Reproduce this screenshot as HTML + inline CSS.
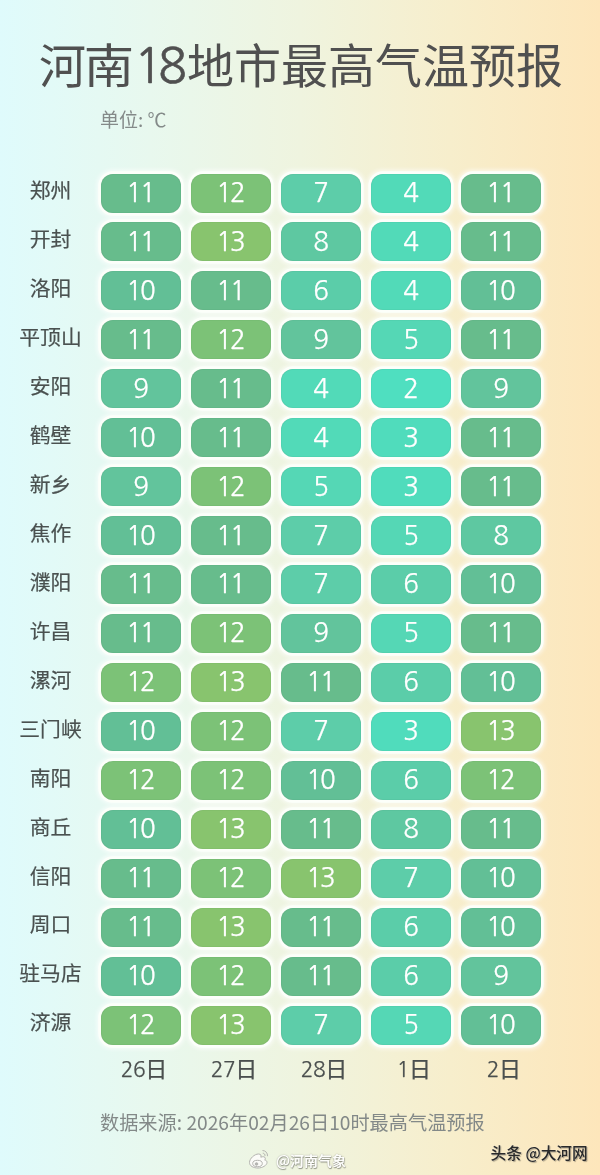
<!DOCTYPE html>
<html><head><meta charset="utf-8">
<style>
html,body{margin:0;padding:0;}
body{width:600px;height:1175px;overflow:hidden;position:relative;
background:linear-gradient(90deg,#dffbfc 0%,#e8f8ee 25%,#eff4df 50%,#f7eecc 75%,#fde6bb 100%);
font-family:"Liberation Sans","Noto Sans CJK SC",sans-serif;}
.t{position:absolute;top:27.8px;font-size:47px;line-height:70px;color:#505050;font-family:"Noto Sans CJK SC",sans-serif;white-space:nowrap;}
.t18{position:absolute;top:30.5px;font-size:48px;-webkit-text-stroke:0.6px #505050;line-height:70px;color:#505050;font-family:"NanumGothic",sans-serif;letter-spacing:-5px;white-space:nowrap;}
.unit{position:absolute;left:100px;top:104px;font-size:19px;line-height:30px;color:#848a89;font-family:"Noto Sans CJK SC",sans-serif;}
.lab{position:absolute;left:0;width:101px;height:38.7px;line-height:38.7px;text-align:center;font-size:20.8px;color:#4a5150;-webkit-text-stroke:0.2px #4a5150;font-family:"Noto Sans CJK SC",sans-serif;white-space:nowrap;}
.cell{position:absolute;width:79.8px;height:39px;border-radius:12px;box-shadow:0 0 0 2.7px #fcfffa, 0 0 4px 3.5px rgba(255,255,255,0.7), inset 0 0 1px rgba(0,60,30,0.35);color:#fff;text-align:center;
line-height:39px;font-size:26px;letter-spacing:-2px;font-family:"NanumGothic","Liberation Sans",sans-serif;}
.cell span{position:relative;top:0.4px;left:-1.2px;-webkit-text-stroke:0.25px #fff;}
.date{position:absolute;top:1052px;width:79.8px;padding-left:5.5px;box-sizing:border-box;-webkit-text-stroke:0.25px #4a4f4e;text-align:center;font-size:22px;line-height:30px;color:#4a4f4e;font-family:"Noto Sans CJK SC",sans-serif;}
.dn{font-size:21px;font-family:"NanumGothic",sans-serif;letter-spacing:-0.5px;}
.src{position:absolute;left:100px;top:1107px;font-size:19.2px;line-height:30px;color:#838988;font-family:"Noto Sans CJK SC",sans-serif;white-space:nowrap;}
.wb{position:absolute;left:276px;top:1150.5px;font-size:14px;line-height:18px;color:#fdfdfb;font-weight:700;text-shadow:0.5px 0.5px 1px rgba(0,0,0,0.35),0 0 1.5px rgba(0,0,0,0.3);font-family:"Noto Sans CJK SC",sans-serif;}
.wbl{position:absolute;left:247px;top:1147px;width:24px;height:24px;}
.tt{position:absolute;left:490.5px;top:1142.5px;font-size:15.7px;line-height:20px;color:#2a2a2a;font-weight:500;text-shadow:1px 1px 1px rgba(0,0,0,0.3),0 0 1px rgba(255,255,255,0.8);font-family:"Noto Sans CJK SC",sans-serif;white-space:nowrap;}
</style></head><body>
<div class="t" style="left:39px">河</div>
<div class="t" style="left:84px;transform:scaleX(1.07);transform-origin:3px 0">南</div>
<div class="t18" style="left:134px">18</div>
<div class="t" style="left:187px">地市最高气温预报</div>
<div class="unit">单位: ℃</div>
<div class="lab" style="top:170.20px">郑州</div>
<div class="cell" style="left:101.30px;top:173.50px;background:#67bc8c"><span>11</span></div>
<div class="cell" style="left:191.30px;top:173.50px;background:#7cc277"><span>12</span></div>
<div class="cell" style="left:281.30px;top:173.50px;background:#5dcda9"><span>7</span></div>
<div class="cell" style="left:371.30px;top:173.50px;background:#52dab8"><span>4</span></div>
<div class="cell" style="left:461.30px;top:173.50px;background:#67bc8c"><span>11</span></div>
<div class="lab" style="top:219.15px">开封</div>
<div class="cell" style="left:101.30px;top:222.45px;background:#67bc8c"><span>11</span></div>
<div class="cell" style="left:191.30px;top:222.45px;background:#88c46e"><span>13</span></div>
<div class="cell" style="left:281.30px;top:222.45px;background:#5ec8a1"><span>8</span></div>
<div class="cell" style="left:371.30px;top:222.45px;background:#52dab8"><span>4</span></div>
<div class="cell" style="left:461.30px;top:222.45px;background:#67bc8c"><span>11</span></div>
<div class="lab" style="top:268.10px">洛阳</div>
<div class="cell" style="left:101.30px;top:271.40px;background:#62bf96"><span>10</span></div>
<div class="cell" style="left:191.30px;top:271.40px;background:#67bc8c"><span>11</span></div>
<div class="cell" style="left:281.30px;top:271.40px;background:#5bcda9"><span>6</span></div>
<div class="cell" style="left:371.30px;top:271.40px;background:#52dab8"><span>4</span></div>
<div class="cell" style="left:461.30px;top:271.40px;background:#62bf96"><span>10</span></div>
<div class="lab" style="top:317.05px">平顶山</div>
<div class="cell" style="left:101.30px;top:320.35px;background:#67bc8c"><span>11</span></div>
<div class="cell" style="left:191.30px;top:320.35px;background:#7cc277"><span>12</span></div>
<div class="cell" style="left:281.30px;top:320.35px;background:#62c49c"><span>9</span></div>
<div class="cell" style="left:371.30px;top:320.35px;background:#55d7b5"><span>5</span></div>
<div class="cell" style="left:461.30px;top:320.35px;background:#67bc8c"><span>11</span></div>
<div class="lab" style="top:366.00px">安阳</div>
<div class="cell" style="left:101.30px;top:369.30px;background:#62c49c"><span>9</span></div>
<div class="cell" style="left:191.30px;top:369.30px;background:#67bc8c"><span>11</span></div>
<div class="cell" style="left:281.30px;top:369.30px;background:#52dab8"><span>4</span></div>
<div class="cell" style="left:371.30px;top:369.30px;background:#4fdfc0"><span>2</span></div>
<div class="cell" style="left:461.30px;top:369.30px;background:#62c49c"><span>9</span></div>
<div class="lab" style="top:414.95px">鹤壁</div>
<div class="cell" style="left:101.30px;top:418.25px;background:#62bf96"><span>10</span></div>
<div class="cell" style="left:191.30px;top:418.25px;background:#67bc8c"><span>11</span></div>
<div class="cell" style="left:281.30px;top:418.25px;background:#52dab8"><span>4</span></div>
<div class="cell" style="left:371.30px;top:418.25px;background:#50dcbc"><span>3</span></div>
<div class="cell" style="left:461.30px;top:418.25px;background:#67bc8c"><span>11</span></div>
<div class="lab" style="top:463.90px">新乡</div>
<div class="cell" style="left:101.30px;top:467.20px;background:#62c49c"><span>9</span></div>
<div class="cell" style="left:191.30px;top:467.20px;background:#7cc277"><span>12</span></div>
<div class="cell" style="left:281.30px;top:467.20px;background:#55d7b5"><span>5</span></div>
<div class="cell" style="left:371.30px;top:467.20px;background:#50dcbc"><span>3</span></div>
<div class="cell" style="left:461.30px;top:467.20px;background:#67bc8c"><span>11</span></div>
<div class="lab" style="top:512.85px">焦作</div>
<div class="cell" style="left:101.30px;top:516.15px;background:#62bf96"><span>10</span></div>
<div class="cell" style="left:191.30px;top:516.15px;background:#67bc8c"><span>11</span></div>
<div class="cell" style="left:281.30px;top:516.15px;background:#5dcda9"><span>7</span></div>
<div class="cell" style="left:371.30px;top:516.15px;background:#55d7b5"><span>5</span></div>
<div class="cell" style="left:461.30px;top:516.15px;background:#5ec8a1"><span>8</span></div>
<div class="lab" style="top:561.80px">濮阳</div>
<div class="cell" style="left:101.30px;top:565.10px;background:#67bc8c"><span>11</span></div>
<div class="cell" style="left:191.30px;top:565.10px;background:#67bc8c"><span>11</span></div>
<div class="cell" style="left:281.30px;top:565.10px;background:#5dcda9"><span>7</span></div>
<div class="cell" style="left:371.30px;top:565.10px;background:#5bcda9"><span>6</span></div>
<div class="cell" style="left:461.30px;top:565.10px;background:#62bf96"><span>10</span></div>
<div class="lab" style="top:610.75px">许昌</div>
<div class="cell" style="left:101.30px;top:614.05px;background:#67bc8c"><span>11</span></div>
<div class="cell" style="left:191.30px;top:614.05px;background:#7cc277"><span>12</span></div>
<div class="cell" style="left:281.30px;top:614.05px;background:#62c49c"><span>9</span></div>
<div class="cell" style="left:371.30px;top:614.05px;background:#55d7b5"><span>5</span></div>
<div class="cell" style="left:461.30px;top:614.05px;background:#67bc8c"><span>11</span></div>
<div class="lab" style="top:659.70px">漯河</div>
<div class="cell" style="left:101.30px;top:663.00px;background:#7cc277"><span>12</span></div>
<div class="cell" style="left:191.30px;top:663.00px;background:#88c46e"><span>13</span></div>
<div class="cell" style="left:281.30px;top:663.00px;background:#67bc8c"><span>11</span></div>
<div class="cell" style="left:371.30px;top:663.00px;background:#5bcda9"><span>6</span></div>
<div class="cell" style="left:461.30px;top:663.00px;background:#62bf96"><span>10</span></div>
<div class="lab" style="top:708.65px">三门峡</div>
<div class="cell" style="left:101.30px;top:711.95px;background:#62bf96"><span>10</span></div>
<div class="cell" style="left:191.30px;top:711.95px;background:#7cc277"><span>12</span></div>
<div class="cell" style="left:281.30px;top:711.95px;background:#5dcda9"><span>7</span></div>
<div class="cell" style="left:371.30px;top:711.95px;background:#50dcbc"><span>3</span></div>
<div class="cell" style="left:461.30px;top:711.95px;background:#88c46e"><span>13</span></div>
<div class="lab" style="top:757.60px">南阳</div>
<div class="cell" style="left:101.30px;top:760.90px;background:#7cc277"><span>12</span></div>
<div class="cell" style="left:191.30px;top:760.90px;background:#7cc277"><span>12</span></div>
<div class="cell" style="left:281.30px;top:760.90px;background:#62bf96"><span>10</span></div>
<div class="cell" style="left:371.30px;top:760.90px;background:#5bcda9"><span>6</span></div>
<div class="cell" style="left:461.30px;top:760.90px;background:#7cc277"><span>12</span></div>
<div class="lab" style="top:806.55px">商丘</div>
<div class="cell" style="left:101.30px;top:809.85px;background:#62bf96"><span>10</span></div>
<div class="cell" style="left:191.30px;top:809.85px;background:#88c46e"><span>13</span></div>
<div class="cell" style="left:281.30px;top:809.85px;background:#67bc8c"><span>11</span></div>
<div class="cell" style="left:371.30px;top:809.85px;background:#5ec8a1"><span>8</span></div>
<div class="cell" style="left:461.30px;top:809.85px;background:#67bc8c"><span>11</span></div>
<div class="lab" style="top:855.50px">信阳</div>
<div class="cell" style="left:101.30px;top:858.80px;background:#67bc8c"><span>11</span></div>
<div class="cell" style="left:191.30px;top:858.80px;background:#7cc277"><span>12</span></div>
<div class="cell" style="left:281.30px;top:858.80px;background:#88c46e"><span>13</span></div>
<div class="cell" style="left:371.30px;top:858.80px;background:#5dcda9"><span>7</span></div>
<div class="cell" style="left:461.30px;top:858.80px;background:#62bf96"><span>10</span></div>
<div class="lab" style="top:904.45px">周口</div>
<div class="cell" style="left:101.30px;top:907.75px;background:#67bc8c"><span>11</span></div>
<div class="cell" style="left:191.30px;top:907.75px;background:#88c46e"><span>13</span></div>
<div class="cell" style="left:281.30px;top:907.75px;background:#67bc8c"><span>11</span></div>
<div class="cell" style="left:371.30px;top:907.75px;background:#5bcda9"><span>6</span></div>
<div class="cell" style="left:461.30px;top:907.75px;background:#62bf96"><span>10</span></div>
<div class="lab" style="top:953.40px">驻马店</div>
<div class="cell" style="left:101.30px;top:956.70px;background:#62bf96"><span>10</span></div>
<div class="cell" style="left:191.30px;top:956.70px;background:#7cc277"><span>12</span></div>
<div class="cell" style="left:281.30px;top:956.70px;background:#67bc8c"><span>11</span></div>
<div class="cell" style="left:371.30px;top:956.70px;background:#5bcda9"><span>6</span></div>
<div class="cell" style="left:461.30px;top:956.70px;background:#62c49c"><span>9</span></div>
<div class="lab" style="top:1002.35px">济源</div>
<div class="cell" style="left:101.30px;top:1005.65px;background:#7cc277"><span>12</span></div>
<div class="cell" style="left:191.30px;top:1005.65px;background:#88c46e"><span>13</span></div>
<div class="cell" style="left:281.30px;top:1005.65px;background:#5dcda9"><span>7</span></div>
<div class="cell" style="left:371.30px;top:1005.65px;background:#55d7b5"><span>5</span></div>
<div class="cell" style="left:461.30px;top:1005.65px;background:#62bf96"><span>10</span></div>
<div class="date" style="left:101.30px"><span class="dn">26</span>日</div>
<div class="date" style="left:191.30px"><span class="dn">27</span>日</div>
<div class="date" style="left:281.30px"><span class="dn">28</span>日</div>
<div class="date" style="left:371.30px"><span class="dn">1</span>日</div>
<div class="date" style="left:461.30px"><span class="dn">2</span>日</div>
<div class="src">数据来源: 2026年02月26日10时最高气温预报</div>
<svg class="wbl" viewBox="0 0 24 24"><g fill="none" stroke="#b4b4b0" stroke-width="1"><path d="M2.5 15.5c0-4 5-8.5 9-8.5 2.5 0 3 1.5 2.3 3.2 2-0.8 4.5-0.8 4.5 1.3 0 1 0 1-0.6 1.4 1.8 0.5 2.3 1.3 2.3 2.6 0 2.8-4.5 5.5-9 5.5-4.7 0-8.5-2-8.5-5.5z" fill="#fbfbf8"/><ellipse cx="10.5" cy="16.5" rx="4.8" ry="3.2"/><circle cx="9.5" cy="17" r="1.3" fill="#b4b4b0"/><path d="M15.5 3.5c3 0 5.3 2.5 5 5.7"/><path d="M15.8 6.2c1.3 0 2.5 1.2 2.2 2.7"/></g></svg>
<div class="wb">@河南气象</div>
<div class="tt">头条 @大河网</div>
</body></html>
